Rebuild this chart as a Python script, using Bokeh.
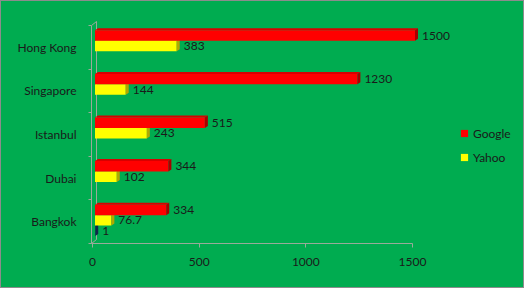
from bokeh.plotting import figure
from bokeh.models import ColumnDataSource, Range1d, FixedTicker, Legend, LegendItem
from bokeh.embed import file_html
from bokeh.resources import INLINE
from bokeh.core.properties import value

# ---------------- data ----------------
cities = ["Bangkok", "Dubai", "Istanbul", "Singapore", "Hong Kong"]
google = [334, 344, 515, 1230, 1500]
yahoo = [76.7, 102, 243, 144, 383]
series3_cities = ["Bangkok"]
series3 = [1]
x_ticks = [0, 500, 1000, 1500]

# ---------------- styling constants ----------------
BG = "#00AC50"
AXIS_COL = "#9aaa9a"
TEXT_COL = "#1a1a1a"
FONT = "Lato"
PX_X = 320 / 1500.0          # pixels per data unit along x
PX_Y = 43.6                  # pixels per category
X0 = -1 / PX_X               # frame left a pixel left of zero
X1 = X0 + 430 / PX_X
Y0, Y1 = -0.5, -0.5 + 228 / PX_Y
SHIFT = 2.5 / PX_X           # 3-D depth shift of bars
DX = 3 / PX_X                # depth of side faces
DY = 2 / PX_Y
BAR_H = 0.24

p = figure(width=524, height=288, output_backend="svg", toolbar_location=None,
           x_range=Range1d(X0, X1), y_range=Range1d(Y0, Y1),
           min_border_left=90, min_border_right=4, min_border_top=14,
           min_border_bottom=46)
p.styles = {"border": "1px solid #8c8c8c", "background-color": BG}
p.background_fill_alpha = 0
p.border_fill_alpha = 0
p.outline_line_color = None
p.grid.visible = False

# 3-D walls (back wall line and connections)
wall_dx = 5 / PX_X
wall_dy = 4 / PX_Y
p.segment(x0=[X0 + wall_dx, X0, X0], y0=[-0.5 + wall_dy, 4.5, -0.5],
          x1=[X0 + wall_dx, X0 + wall_dx, X0 + wall_dx],
          y1=[4.5 + wall_dy, 4.5 + wall_dy, -0.5 + wall_dy],
          line_color=AXIS_COL, line_width=1)


def draw_series(cats, vals, offset, front, top, side):
    idx = [cities.index(c) for c in cats]
    yc = [i + offset for i in idx]
    left = [SHIFT] * len(vals)
    right = [v + SHIFT for v in vals]
    yb = [y - BAR_H / 2 for y in yc]
    yt = [y + BAR_H / 2 for y in yc]
    side_src = ColumnDataSource(dict(
        xs=[[r, r + DX, r + DX, r] for r in right],
        ys=[[b, b + DY, t + DY, t] for b, t in zip(yb, yt)]))
    top_src = ColumnDataSource(dict(
        xs=[[l, r, r + DX, l + DX] for l, r in zip(left, right)],
        ys=[[t, t, t + DY, t + DY] for t in yt]))
    src = ColumnDataSource(dict(y=yc, left=left, right=right, v=vals,
                                lab=[f"{v:g}" for v in vals],
                                lx=[r + DX for r in right]))
    p.patches("xs", "ys", source=top_src, fill_color=top, line_color=None)
    r = p.hbar(y="y", left="left", right="right", height=BAR_H, source=src,
               fill_color=front, line_color=None)
    p.patches("xs", "ys", source=side_src, fill_color=side, line_color=None)
    p.text(x="lx", y="y", text="lab", source=src, x_offset=4,
           text_font=value(FONT), text_font_size="12px", text_color=TEXT_COL,
           text_baseline="middle", text_align="left")
    return r


draw_series(series3_cities, series3, -0.21, "#1F497D", "#2a5a94", "#10294a")
draw_series(cities, yahoo, 0.03, "#FFFF00", "#e8e800", "#b0a800")
draw_series(cities, google, 0.27, "#FF0000", "#d80000", "#a80000")

# axes
xa = p.xaxis[0]
xa.ticker = FixedTicker(ticks=x_ticks, minor_ticks=[])
xa.bounds = (X0, 1500)
xa.axis_line_color = AXIS_COL
xa.major_tick_line_color = AXIS_COL
xa.major_tick_out = 4
xa.major_tick_in = 0
xa.major_label_standoff = 10
xa.major_label_text_font = FONT
xa.major_label_text_font_size = "12px"
xa.major_label_text_color = TEXT_COL

ya = p.yaxis[0]
ya.ticker = FixedTicker(ticks=list(range(len(cities))),
                        minor_ticks=[i - 0.5 for i in range(len(cities) + 1)])
ya.major_label_overrides = {i: c for i, c in enumerate(cities)}
ya.bounds = (-0.5, 4.5)
ya.axis_line_color = AXIS_COL
ya.major_tick_line_color = None
ya.minor_tick_line_color = AXIS_COL
ya.minor_tick_out = 3
ya.minor_tick_in = 0
ya.major_tick_out = 0
ya.major_tick_in = 0
ya.major_label_standoff = 12
ya.major_label_text_font = FONT
ya.major_label_text_font_size = "12px"
ya.major_label_text_color = TEXT_COL

# legend
nan = float("nan")
lg = p.scatter("x", "y", source=ColumnDataSource(dict(x=[nan], y=[nan])),
               marker="square", size=7, fill_color="#FF0000", line_color=None)
ly = p.scatter("x", "y", source=ColumnDataSource(dict(x=[nan], y=[nan])),
               marker="square", size=7, fill_color="#FFFF00", line_color=None)
legend = Legend(items=[LegendItem(label="Google", renderers=[lg]),
                       LegendItem(label="Yahoo", renderers=[ly])],
                location=(364, 77), padding=0, margin=0, spacing=6,
                glyph_width=18, glyph_height=18, label_height=18,
                label_standoff=0, border_line_color=None,
                background_fill_alpha=0, label_text_font=FONT,
                label_text_font_size="12px", label_text_color=TEXT_COL)
p.add_layout(legend)

open("out.html", "w").write(file_html(p, INLINE))
